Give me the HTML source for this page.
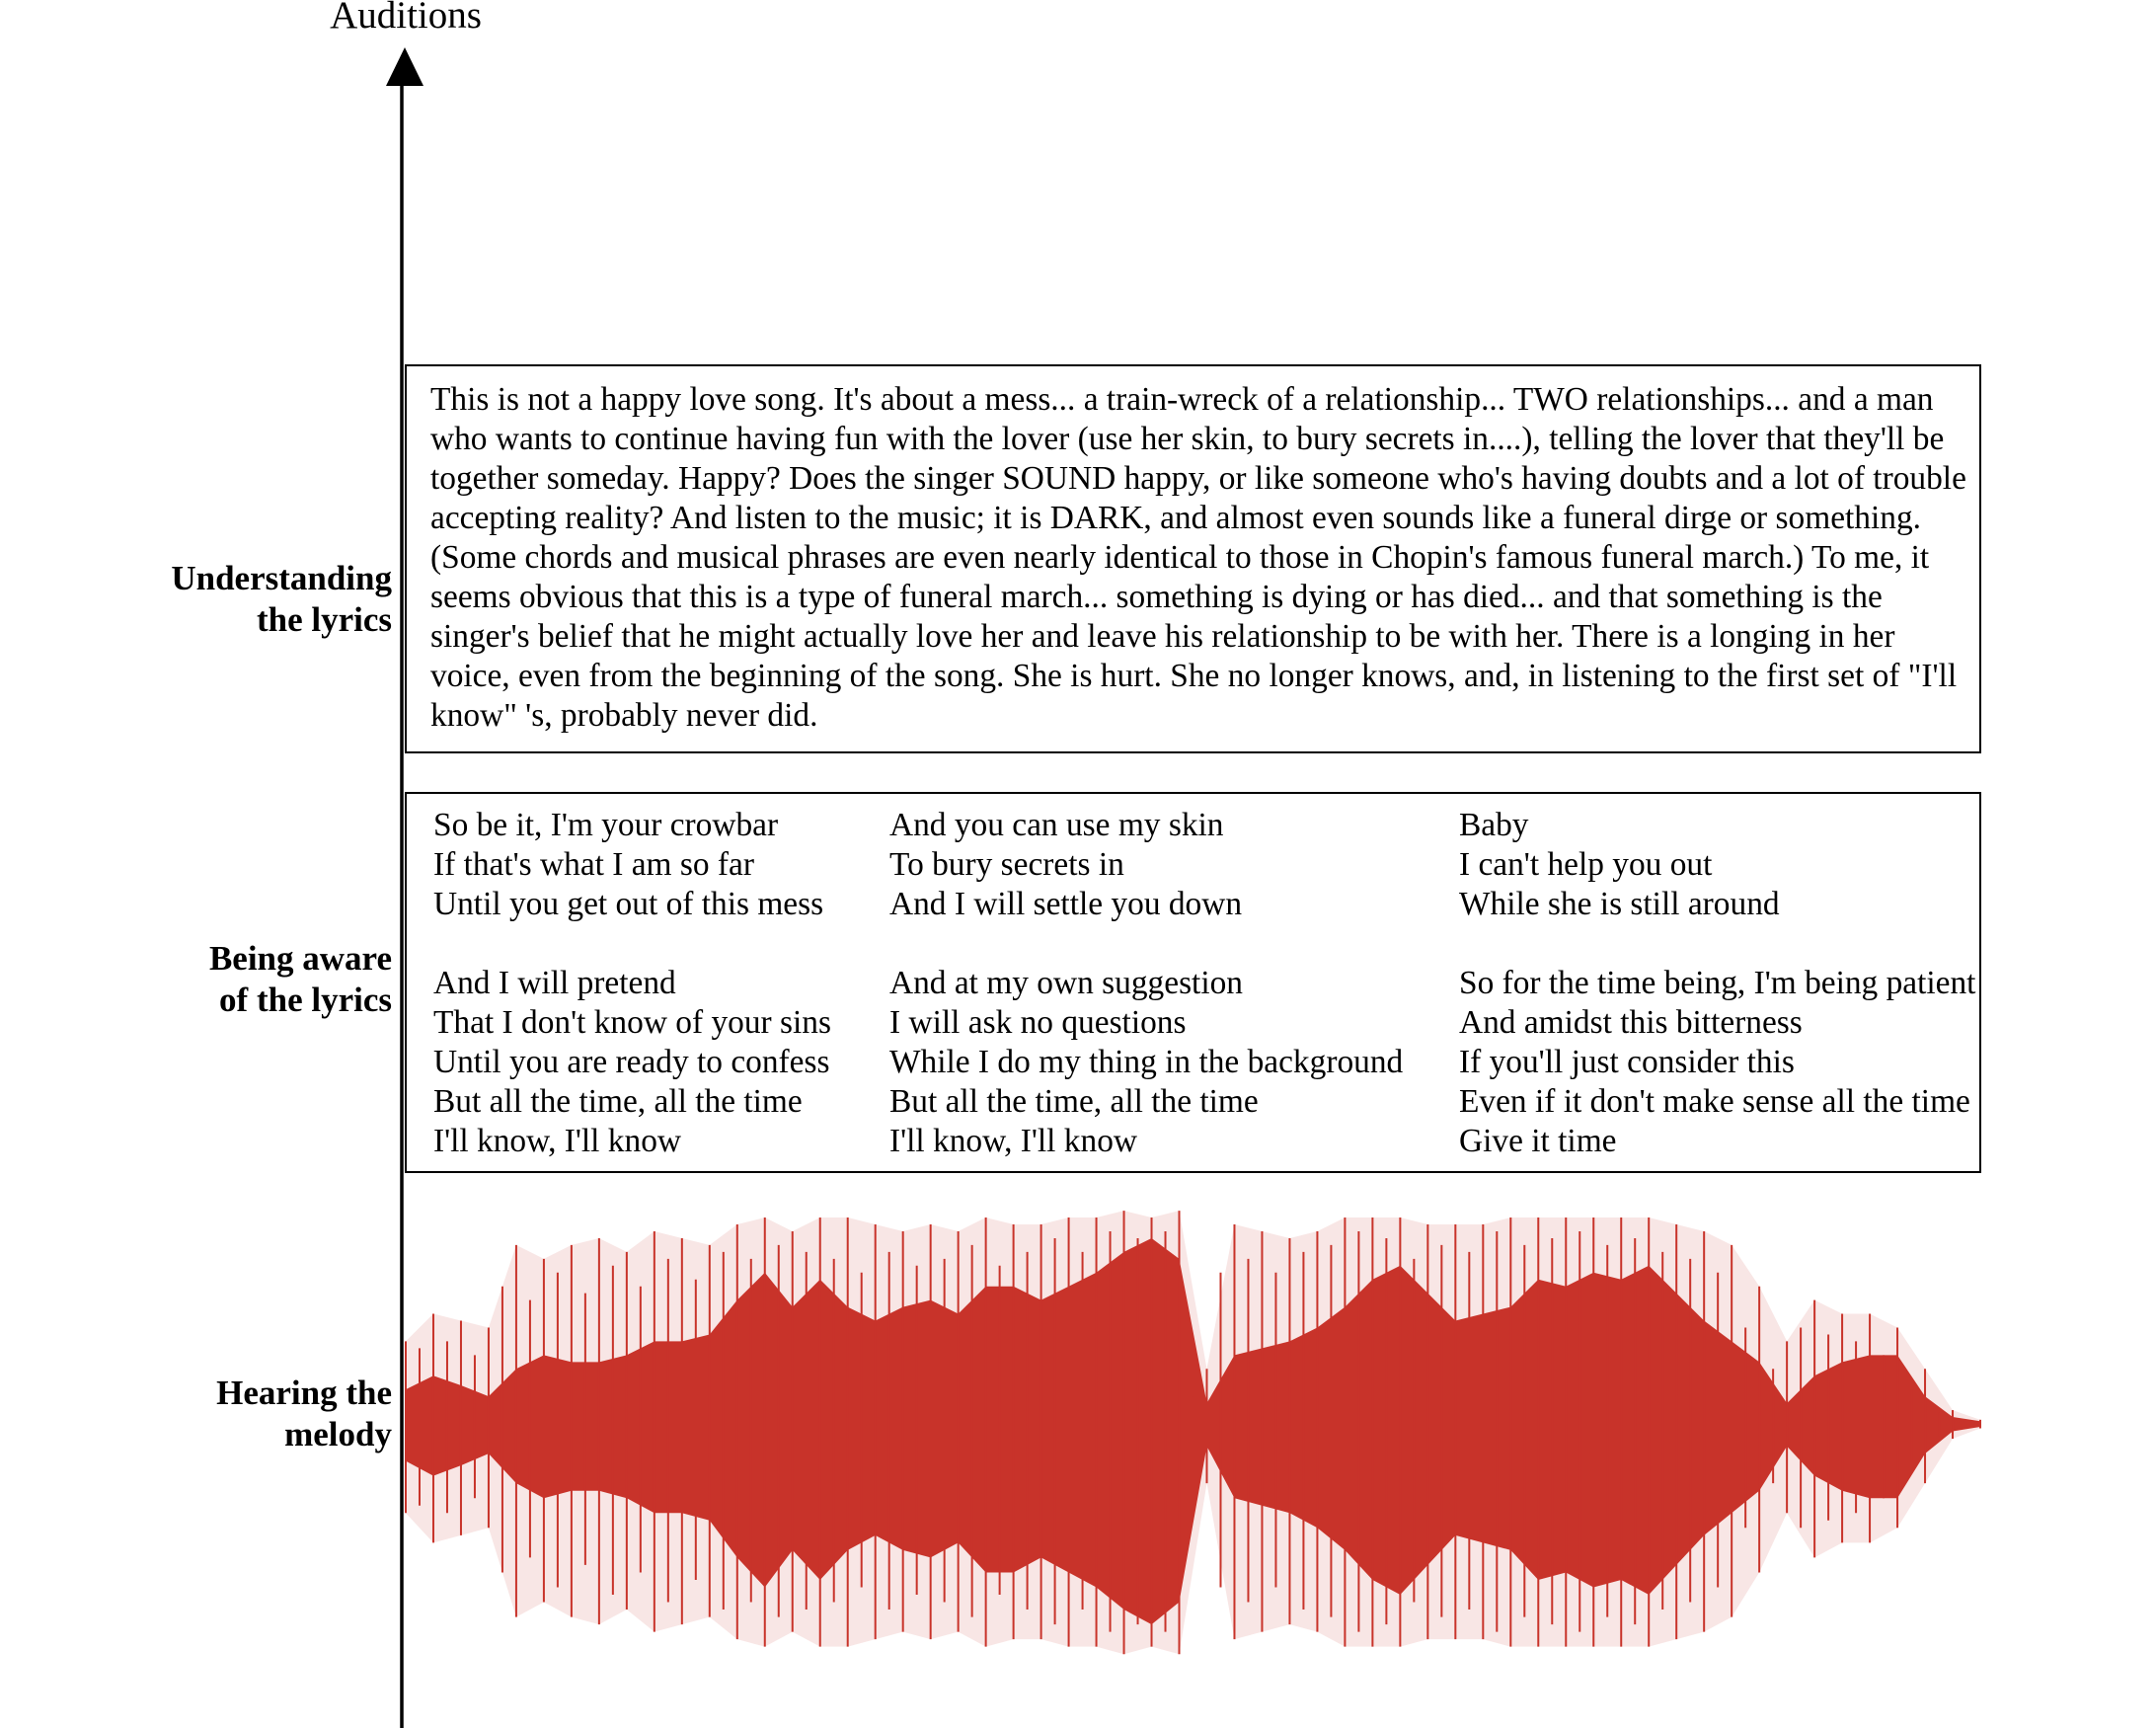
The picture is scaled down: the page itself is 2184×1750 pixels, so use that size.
<!DOCTYPE html>
<html><head><meta charset="utf-8"><style>
html,body{margin:0;padding:0;background:#fff;}
#root{position:relative;width:2184px;height:1750px;overflow:hidden;font-family:"Liberation Serif",serif;color:#000;}
.lbl{position:absolute;right:1787px;font-weight:bold;font-size:35px;line-height:42px;text-align:right;white-space:nowrap;}
.box{position:absolute;border:2px solid #000;box-sizing:border-box;}
.pl{position:absolute;left:24px;font-size:33.4px;white-space:nowrap;line-height:40px;}
.ly{position:absolute;font-size:33.4px;white-space:nowrap;line-height:40px;}
</style></head><body>
<div id="root">
<svg width="2184" height="1750" style="position:absolute;left:0;top:0">
  <line x1="407" y1="80" x2="407" y2="1750" stroke="#000" stroke-width="3.5"/>
  <polygon points="410,48 391,87 429,87" fill="#000"/>
  <text x="411" y="28" font-family="Liberation Serif, serif" font-size="39" text-anchor="middle">Auditions</text>
  <g id="wave"></g>
</svg>
<div class="lbl" style="top:565px">Understanding<br>the lyrics</div>
<div class="lbl" style="top:950px">Being aware<br>of the lyrics</div>
<div class="lbl" style="top:1390px">Hearing the<br>melody</div>

<div class="box" style="left:410px;top:369px;width:1597px;height:394px">
  <div class="pl" style="top:14px">This is not a happy love song. It's about a mess... a train-wreck of a relationship... TWO relationships... and a man</div>
  <div class="pl" style="top:54px">who wants to continue having fun with the lover (use her skin, to bury secrets in....), telling the lover that they'll be</div>
  <div class="pl" style="top:94px">together someday. Happy? Does the singer SOUND happy, or like someone who's having doubts and a lot of trouble</div>
  <div class="pl" style="top:134px">accepting reality? And listen to the music; it is DARK, and almost even sounds like a funeral dirge or something.</div>
  <div class="pl" style="top:174px">(Some chords and musical phrases are even nearly identical to those in Chopin's famous funeral march.) To me, it</div>
  <div class="pl" style="top:214px">seems obvious that this is a type of funeral march... something is dying or has died... and that something is the</div>
  <div class="pl" style="top:254px">singer's belief that he might actually love her and leave his relationship to be with her. There is a longing in her</div>
  <div class="pl" style="top:294px">voice, even from the beginning of the song. She is hurt. She no longer knows, and, in listening to the first set of "I'll</div>
  <div class="pl" style="top:334px">know" 's, probably never did.</div>
</div>

<div class="box" style="left:410px;top:802px;width:1597px;height:386px">
  <div class="ly" style="left:27px;top:12px">So be it, I'm your crowbar<br>If that's what I am so far<br>Until you get out of this mess<br><br>And I will pretend<br>That I don't know of your sins<br>Until you are ready to confess<br>But all the time, all the time<br>I'll know, I'll know</div>
  <div class="ly" style="left:489px;top:12px">And you can use my skin<br>To bury secrets in<br>And I will settle you down<br><br>And at my own suggestion<br>I will ask no questions<br>While I do my thing in the background<br>But all the time, all the time<br>I'll know, I'll know</div>
  <div class="ly" style="left:1066px;top:12px">Baby<br>I can't help you out<br>While she is still around<br><br>So for the time being, I'm being patient<br>And amidst this bitterness<br>If you'll just consider this<br>Even if it don't make sense all the time<br>Give it time</div>
</div>
</div>
<script>
// waveform envelope data (relative amplitude units), sampled evenly over the song
const coreAmp = [25,35,28,20,40,50,45,45,50,60,60,65,90,110,85,105,85,75,85,90,80,100,100,90,100,110,125,135,120,15,50,55,60,70,85,105,115,95,75,80,85,105,100,110,105,115,95,75,60,45,15,35,45,50,50,20,5,2];
const spikeAmp = [60,80,75,70,130,120,130,135,125,140,135,130,145,150,140,150,150,145,140,145,140,150,145,145,150,150,155,150,155,40,145,140,135,140,150,150,150,145,145,145,150,150,150,150,150,150,145,140,130,100,60,90,80,80,70,40,10,3];
// secondary peaks between the main samples
const midSpikeAmp = [55,60,50,100,90,110,95,115,100,120,105,125,120,130,125,120,110,125,115,120,130,115,125,135,125,140,135,140,20,110,120,110,125,130,140,135,120,130,125,140,130,135,140,130,135,125,120,110,70,40,70,65,60,50,25,8,2];
const X0=411, X1=2006, CY=1442, K=1.393, LOW=1.08;
const xs = i => X0 + (X1-X0)*i/(coreAmp.length-1);
const yUp = v => CY - v*K;
const yDn = v => CY + v*K*LOW;
const NS='http://www.w3.org/2000/svg';
const g=document.getElementById('wave');
function poly(arr, fill, op, name){
  let up=arr.map((v,i)=>xs(i)+','+yUp(v));
  let dn=arr.map((v,i)=>xs(i)+','+yDn(v)).reverse();
  const p=document.createElementNS(NS,'polygon');
  p.setAttribute('points',up.concat(dn).join(' '));
  p.setAttribute('fill',fill);p.setAttribute('fill-opacity',op);
  
  
  g.appendChild(p);
}
poly(spikeAmp,'#c8332a',0.12,'waveform-peaks');
poly(coreAmp,'#c8332a',1,'waveform-core');
function spike(x,v){
  const l=document.createElementNS(NS,'line');
  l.setAttribute('x1',x);l.setAttribute('x2',x);
  l.setAttribute('y1',yUp(v));l.setAttribute('y2',yDn(v));
  l.setAttribute('stroke','#c8332a');l.setAttribute('stroke-width','2');
  
  
  g.appendChild(l);
}
spikeAmp.forEach((v,i)=>spike(xs(i),v));
midSpikeAmp.forEach((v,i)=>spike(xs(i+0.5),v));
</script>
</body></html>
